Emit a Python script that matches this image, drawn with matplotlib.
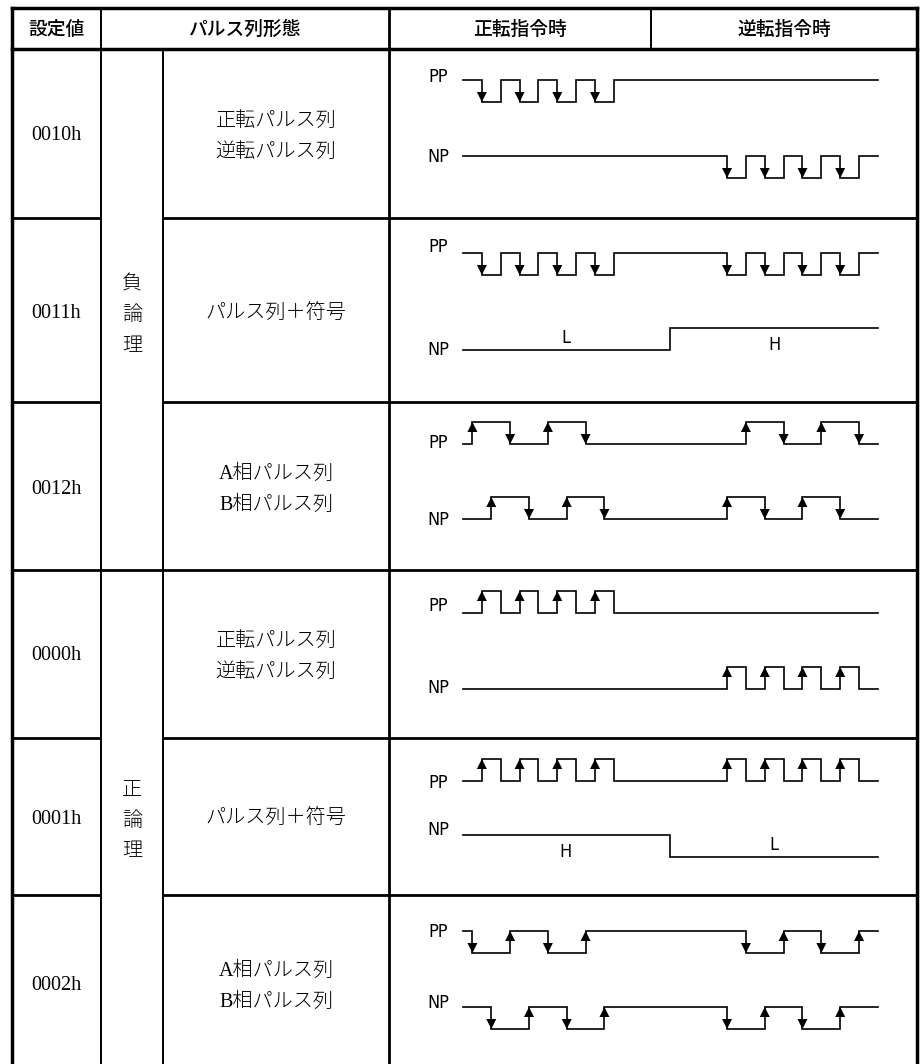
import matplotlib
matplotlib.use("Agg")
import matplotlib.pyplot as plt
from matplotlib.patches import Polygon

# ---------------- data ----------------
header_labels = ["設定値", "パルス列形態", "正転指令時", "逆転指令時"]
setting_values = ["0010h", "0011h", "0012h", "0000h", "0001h", "0002h"]
logic_labels = ["負\n論\n理", "正\n論\n理"]
pulse_forms = [
    ["正転パルス列", "逆転パルス列"],
    ["パルス列＋符号"],
    ["A相パルス列", "B相パルス列"],
    ["正転パルス列", "逆転パルス列"],
    ["パルス列＋符号"],
    ["A相パルス列", "B相パルス列"],
]
signal_names = ["PP", "NP"]

# waveform: initial level (1 = high), edge times (time units), arrowed edges
pp_initial = [1, 1, 0, 0, 0, 1]
pp_edges = [
    [1, 2, 3, 4, 5, 6, 7, 8],
    [1, 2, 3, 4, 5, 6, 7, 8, 14, 15, 16, 17, 18, 19, 20, 21],
    [0.5, 2.5, 4.5, 6.5, 15, 17, 19, 21],
    [1, 2, 3, 4, 5, 6, 7, 8],
    [1, 2, 3, 4, 5, 6, 7, 8, 14, 15, 16, 17, 18, 19, 20, 21],
    [0.5, 2.5, 4.5, 6.5, 15, 17, 19, 21],
]
pp_arrows = ["fall", "fall", "both", "rise", "rise", "both"]

np_initial = [1, 0, 0, 0, 1, 1]
np_edges = [
    [14, 15, 16, 17, 18, 19, 20, 21],
    [11],
    [1.5, 3.5, 5.5, 7.5, 14, 16, 18, 20],
    [14, 15, 16, 17, 18, 19, 20, 21],
    [11],
    [1.5, 3.5, 5.5, 7.5, 14, 16, 18, 20],
]
np_arrows = ["fall", "none", "both", "rise", "none", "both"]
time_end = 22

# sign level labels (row index -> [(text, time)])
level_labels = {1: [("L", 5.46), ("H", 16.5)], 4: [("H", 5.46), ("L", 16.5)]}

# ---------------- layout (pixels) ----------------
W, H = 922, 1064
col_x = [12, 101, 163, 389, 651, 917]
top_y, head_y = 8, 49
row_y = [49, 218, 402, 570, 738, 895, 1064]
wave_x0, wave_unit = 463, 18.86
pp_high = [80, 253, 422, 591, 759, 931]
np_high = [156, 328, 497, 667, 835, 1007]
amp = 22
pp_label_y = [77, 247, 443, 606, 783, 932]
np_label_y = [157, 350, 520, 688, 830, 1003]
text_y = [136, 314, 489, 656, 819, 986]
label_x = 438

fig = plt.figure(figsize=(W / 100, H / 100), dpi=100)
ax = fig.add_axes([0, 0, 1, 1])
ax.set_xlim(0, W)
ax.set_ylim(H, 0)
ax.axis("off")

THICK, MID, THIN, WAVE = 2.5, 2.0, 1.4, 1.2
K = "black"

def hline(y, x0, x1, lw, cap="projecting"):
    ax.plot([x0, x1], [y, y], color=K, lw=lw, solid_capstyle=cap)

def vline(x, y0, y1, lw):
    ax.plot([x, x], [y0, y1], color=K, lw=lw, solid_capstyle="projecting")

# outer border and header
hline(top_y, col_x[0], col_x[-1], THICK)
hline(head_y, col_x[0], col_x[-1], THICK)
vline(col_x[0], top_y, H + 5, THICK)
vline(col_x[-1], top_y, H + 5, THICK)
vline(col_x[1], top_y, H + 5, THIN)
vline(col_x[2], head_y, H + 5, THIN)
vline(col_x[3], top_y, H + 5, MID)
vline(col_x[4], top_y, head_y, THIN)

for i, y in enumerate(row_y[1:-1], start=1):
    if i == 3:
        hline(y, col_x[0], col_x[-1], MID, "butt")
    else:
        hline(y, col_x[0], col_x[1], MID, "butt")
        hline(y, col_x[2], col_x[-1], MID, "butt")

# header text
head_centers = [(col_x[0] + col_x[1]) / 2, (col_x[1] + col_x[3]) / 2,
                (col_x[3] + col_x[4]) / 2, (col_x[4] + col_x[5]) / 2]
for txt, cx in zip(header_labels, head_centers):
    ax.text(cx, (top_y + head_y) / 2 + 1, txt, ha="center", va="center",
            fontsize=13.5, family=["Noto Sans CJK JP"], fontweight="medium")

serif_jp = ["Liberation Serif", "Noto Sans CJK JP"]
narrow = ["DejaVu Sans"]
BODY = 14.5

# body text
for i in range(6):
    ax.text((col_x[0] + col_x[1]) / 2, text_y[i], setting_values[i],
            ha="center", va="center", fontsize=BODY, family=serif_jp)
    lines = pulse_forms[i]
    cx = (col_x[2] + col_x[3]) / 2
    if len(lines) == 1:
        ax.text(cx, text_y[i], lines[0], ha="center", va="center",
                fontsize=BODY, family=serif_jp, fontweight="light")
    else:
        for k, ln in enumerate(lines):
            ax.text(cx, text_y[i] - 15 + 31 * k, ln, ha="center", va="center",
                    fontsize=BODY, family=serif_jp, fontweight="light")

for j, lab in enumerate(logic_labels):
    yc = text_y[1 + 3 * j]
    for k, ch in enumerate(lab.split("\n")):
        ax.text((col_x[1] + col_x[2]) / 2, yc - 31 + 31 * k + 2, ch,
                ha="center", va="center", fontsize=BODY, family=serif_jp,
                fontweight="light")

def tx(t):
    return wave_x0 + t * wave_unit

def draw_wave(y_hi, init, edges, arrows):
    y_of = lambda lvl: y_hi if lvl else y_hi + amp
    lvl = init
    xs, ys = [tx(0)], [y_of(lvl)]
    for t in edges:
        xs += [tx(t), tx(t)]
        ys += [y_of(lvl), y_of(1 - lvl)]
        falling = lvl == 1
        if arrows == "both" or (arrows == "fall" and falling) or (arrows == "rise" and not falling):
            tip = y_of(1 - lvl)
            d = 1 if falling else -1
            ax.add_patch(Polygon([(tx(t), tip), (tx(t) - 5, tip - d * 10),
                                  (tx(t) + 5, tip - d * 10)],
                                 closed=True, color=K, lw=0))
        lvl = 1 - lvl
    xs.append(tx(time_end))
    ys.append(y_of(lvl))
    ax.plot(xs, ys, color=K, lw=WAVE, solid_joinstyle="miter")

for i in range(6):
    draw_wave(pp_high[i], pp_initial[i], pp_edges[i], pp_arrows[i])
    draw_wave(np_high[i], np_initial[i], np_edges[i], np_arrows[i])
    ax.text(label_x, pp_label_y[i], signal_names[0], ha="center", va="center",
            fontsize=13, family=narrow, fontstretch="condensed")
    ax.text(label_x, np_label_y[i], signal_names[1], ha="center", va="center",
            fontsize=13, family=narrow, fontstretch="condensed")
    for txt, t in level_labels.get(i, []):
        ly = np_high[i] + (17 if txt == "H" else 10)
        ax.text(tx(t), ly, txt, ha="center", va="center", fontsize=13,
                family=narrow, fontstretch="condensed")

fig.savefig("out.png", dpi=100)
